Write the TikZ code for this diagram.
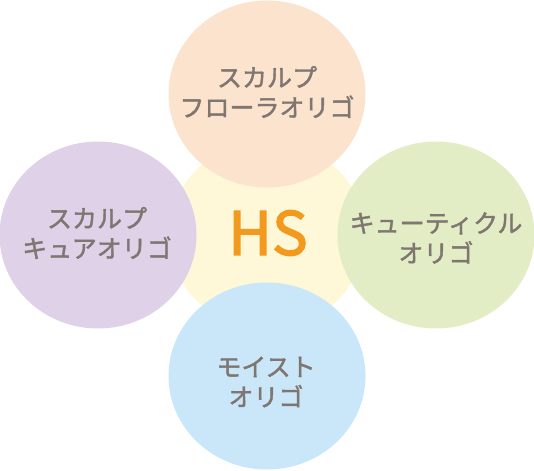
\documentclass[tikz,border=0pt]{standalone}
\usepackage{fontspec}
\newfontfamily\jpfont[FakeBold=1.6]{Noto Sans CJK JP}
\newfontfamily\hsfont[FakeBold=2.2]{Noto Sans CJK JP}
\definecolor{cpeach}{HTML}{FBE3CD}
\definecolor{cyellow}{HTML}{FEF7D8}
\definecolor{clav}{HTML}{DFD1E7}
\definecolor{cgreen}{HTML}{E3EDC5}
\definecolor{cblue}{HTML}{C9E7F8}
\definecolor{ctext}{HTML}{7F7671}
\definecolor{corange}{HTML}{F29A1E}
\tikzset{
  blob/.style={ellipse, minimum width=197pt, minimum height=187pt, inner sep=0pt},
  lbl/.style={font=\jpfont\fontsize{25pt}{30pt}\selectfont, text=ctext, align=center, inner sep=0pt}
}
\usetikzlibrary{shapes.geometric}
\begin{document}
\begin{tikzpicture}[x=1pt,y=-1pt]
\useasboundingbox (0,0) rectangle (534,470);
\node[blob, fill=cyellow] (hub) at (267,235) {};
\node[blob, fill=cpeach] (top) at (267,94) {};
\node[blob, fill=clav] (left) at (98,235) {};
\node[blob, fill=cgreen] (right) at (436,235) {};
\node[blob, fill=cblue] (bottom) at (267,376) {};
\node[font=\hsfont\fontsize{60pt}{60pt}\selectfont, text=corange, inner sep=0pt] (hs) at (268,233) {HS};
\node[lbl] (ttop) at (267,92) {スカルプ\\フローラオリゴ};
\node[lbl] (tleft) at (97,233) {スカルプ\\キュアオリゴ};
\node[lbl] (tright) at (436,238) {キューティクル\\オリゴ};
\node[lbl] (tbottom) at (266,382) {モイスト\\オリゴ};
\end{tikzpicture}
\end{document}
